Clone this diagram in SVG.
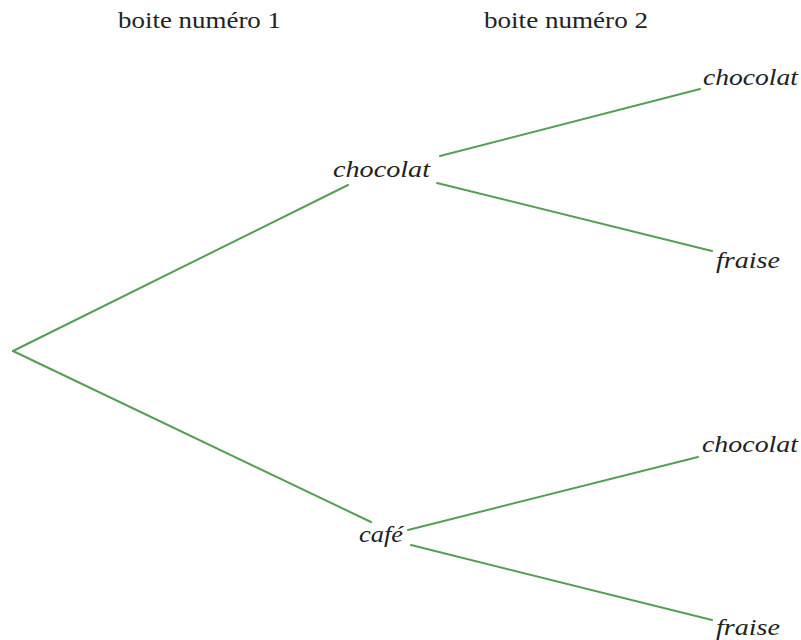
<svg xmlns="http://www.w3.org/2000/svg" width="801" height="640" viewBox="0 0 801 640">
<defs>
<style>
.e{stroke:#559e55;stroke-width:2;fill:none;stroke-linecap:round}
</style>
</defs>
<rect width="801" height="640" fill="#fff"/>
<g id="headers" font-family="Liberation Serif, serif" font-size="23" fill="#222">
<text x="118" y="28" textLength="163" lengthAdjust="spacingAndGlyphs">boite numéro 1</text>
<text x="484" y="28" textLength="164" lengthAdjust="spacingAndGlyphs">boite numéro 2</text>
</g>
<g id="connectors">
<line class="e" x1="13" y1="351" x2="348" y2="185"/>
<line class="e" x1="13" y1="351" x2="371" y2="522"/>
<line class="e" x1="440" y1="156" x2="700" y2="89"/>
<line class="e" x1="437" y1="183" x2="712" y2="251"/>
<line class="e" x1="408" y1="530" x2="698" y2="457"/>
<line class="e" x1="411" y1="545" x2="712" y2="620"/>
</g>
<g font-family="Liberation Serif, serif" font-size="24" font-style="italic" fill="#222">
<g id="n1"><text x="333" y="177" textLength="97" lengthAdjust="spacingAndGlyphs">chocolat</text></g>
<g id="n2"><text x="359" y="542" textLength="44" lengthAdjust="spacingAndGlyphs">café</text></g>
<g id="n3"><text x="703" y="85" textLength="95" lengthAdjust="spacingAndGlyphs">chocolat</text></g>
<g id="n4"><text x="716" y="268" textLength="64" lengthAdjust="spacingAndGlyphs">fraise</text></g>
<g id="n5"><text x="702" y="452" textLength="96" lengthAdjust="spacingAndGlyphs">chocolat</text></g>
<g id="n6"><text x="716" y="635" textLength="64" lengthAdjust="spacingAndGlyphs">fraise</text></g>
</g>
</svg>
